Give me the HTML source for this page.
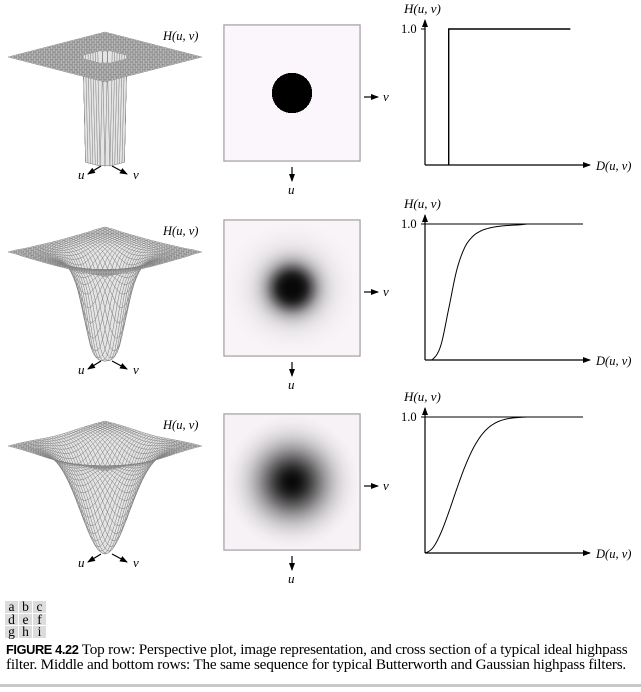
<!DOCTYPE html>
<html><head><meta charset="utf-8">
<style>
body{margin:0;background:#fff;width:641px;height:692px;overflow:hidden;position:relative;font-family:"Liberation Serif",serif}
svg{position:absolute;left:0;top:0}
.cap{position:absolute;left:6px;font-size:15.2px;line-height:15px;color:#000;white-space:nowrap;letter-spacing:-0.2px}
.grid{position:absolute;left:5px;top:601px;display:grid;grid-template-columns:13px 13px 13px;grid-auto-rows:11.5px;gap:1px}
.grid div{background:#dcdcdc;font-size:13.5px;line-height:11.5px;text-align:center}
</style></head><body>
<svg id="fig" width="641" height="692"></svg>
<div class="grid"><div>a</div><div>b</div><div>c</div><div>d</div><div>e</div><div>f</div><div>g</div><div>h</div><div>i</div></div>
<div class="cap" style="top:642px"><b style="font-family:'Liberation Sans',sans-serif;font-size:12.8px;letter-spacing:-0.4px">FIGURE 4.22</b> Top row: Perspective plot, image representation, and cross section of a typical ideal highpass</div>
<div class="cap" style="top:657px">filter. Middle and bottom rows: The same sequence for typical Butterworth and Gaussian highpass filters.</div>
<div style="position:absolute;left:0;top:684px;width:641px;height:3px;background:#c8c8c8"></div>
<script>
// cross-section data (D normalized to graph width, H values)
const dSamples=[0,0.05,0.1,0.15,0.2,0.25,0.3,0.35,0.4,0.45,0.5,0.55,0.6,0.65,1.0];
const butterH=[0,0.007,0.107,0.377,0.657,0.824,0.906,0.947,0.968,0.980,0.987,0.991,0.994,1,1];
const gaussH=[0,0.039,0.146,0.299,0.468,0.627,0.758,0.855,0.920,0.959,0.981,0.992,0.997,1,1];
const idealCut=[0.15];

const NS="http://www.w3.org/2000/svg";
const svg=document.getElementById('fig');
function mk(tag,attrs,parent,name){const e=document.createElementNS(NS,tag);for(const k in attrs)e.setAttribute(k,attrs[k]);


(parent||svg).appendChild(e);return e;}
function txt(x,y,s,name,size){const t=mk('text',{x:x,y:y,'font-size':size||13,'font-style':'italic','font-family':'Liberation Serif, serif'},svg,name);t.textContent=s;return t;}
const defs=mk('defs',{},svg,'defs');
const mrk=mk('marker',{id:'ah',markerWidth:8,markerHeight:6,refX:7,refY:3,orient:'auto',markerUnits:'userSpaceOnUse'},defs,'arrowhead');
mk('path',{d:'M0,0L8,3L0,6z',fill:'#000'},mrk,'arrowhead-shape');
function arrow(x1,y1,x2,y2,name){mk('line',{x1,y1,x2,y2,stroke:'#000','stroke-width':1.2,'marker-end':'url(#ah)'},svg,name);}
function interp(ds,hs,d){if(d>=ds[ds.length-1])return hs[hs.length-1];if(d<=0)return hs[0];
  for(let i=1;i<ds.length;i++){if(d<=ds[i]){const t=(d-ds[i-1])/(ds[i]-ds[i-1]);
    const p0=hs[Math.max(i-2,0)],p1=hs[i-1],p2=hs[i],p3=hs[Math.min(i+1,hs.length-1)];
    const m1=(p2-p0)/2,m2=(p3-p1)/2;const t2=t*t,t3=t2*t;
    let v=(2*t3-3*t2+1)*p1+(t3-2*t2+t)*m1+(-2*t3+3*t2)*p2+(t3-t2)*m2;
    return Math.min(Math.max(v,Math.min(p1,p2)),Math.max(p1,p2));}}return 0;}

const rows=[{type:'ideal',oy:0},{type:'butter',oy:195},{type:'gauss',oy:389}];
function Hof(type,D){if(type==='ideal')return D<idealCut[0]?0:1;return interp(dSamples,type==='butter'?butterH:gaussH,D);}

rows.forEach((r,ri)=>{
  const oy=r.oy, name=r.type;
  const g=mk('g',{},svg,name+'-perspective-plot');
  const N=40, cx=105, cy=57+oy, depth=r.type==='ideal'?104:108;
  const P=(u,v)=>{const D=Math.sqrt(u*u+v*v)/2;const h=Hof(r.type,D);return [cx+48.5*(u-v),cy+12.5*(u+v)+depth*(1-h)];};
  const quads=[];
  for(let i=0;i<N;i++)for(let j=0;j<N;j++){const u0=-1+2*i/N,u1=-1+2*(i+1)/N,v0=-1+2*j/N,v1=-1+2*(j+1)/N;quads.push([u0,u1,v0,v1,(u0+u1+v0+v1)]);}
  quads.sort((a,b)=>a[4]-b[4]);
  quads.forEach(q=>{const a=P(q[0],q[2]),b=P(q[1],q[2]),c=P(q[1],q[3]),d=P(q[0],q[3]);
    const p=document.createElementNS(NS,'path');p.setAttribute('d','M'+a+'L'+b+'L'+c+'L'+d+'Z');p.setAttribute('fill','#e4e4e4');p.setAttribute('stroke','#808080');p.setAttribute('stroke-width','0.45');g.appendChild(p);});
  txt(163,40+oy,'H(u, v)',name+'-surface-label',12.5);
  const ay=(ri===2?554:166+oy);
  arrow(101,ay,88,ay+8,name+'-u-axis-arrow');arrow(112,ay,127,ay+8,name+'-v-axis-arrow');
  txt(78,ay+13,'u',name+'-u-label');txt(133,ay+13,'v',name+'-v-label');
  const bx=224,by=25+oy,bs=136;
  const gr=mk('radialGradient',{id:'rg'+ri,cx:0.5,cy:0.5,r:0.5,gradientUnits:'objectBoundingBox'},defs,name+'-gradient');
  for(let k=0;k<=40;k++){const rr=k/40;const D=rr*bs/2/137;const h=Hof(r.type,D);let c;
    if(r.type==='ideal')c=h<0.5?'#000':'#fbf6fb';else{const gv=Math.round(8+h*243);c='rgb('+gv+','+Math.round(gv*0.985)+','+gv+')';}
    mk('stop',{offset:rr,'stop-color':c},gr,'gradient-stop');
    if(r.type==='ideal'&&k<40){const D2=(k+1)/40*bs/2/137;if(Hof(r.type,D2)!==h)mk('stop',{offset:rr+0.0001,'stop-color':'#fbf6fb'},gr,'gradient-stop');}}
  mk('rect',{x:bx,y:by,width:bs,height:bs,fill:'#fbf6fb',stroke:'#a8a2a8','stroke-width':1.4},svg,name+'-image-frame');
  mk('rect',{x:bx+0.7,y:by+0.7,width:bs-1.4,height:bs-1.4,fill:'url(#rg'+ri+')'},svg,name+'-image');
  arrow(292,by+bs+6,292,by+bs+20,name+'-image-u-arrow');txt(288,by+bs+33,'u',name+'-image-u-label');
  arrow(364,by+bs/2+4,378,by+bs/2+4,name+'-image-v-arrow');txt(383,by+bs/2+8,'v',name+'-image-v-label');
  const ox=425, oyg=165+oy+(ri===2?-1:0), y1=29+oy+(ri===2?-1:0);
  const xs=D=>ox+D*158, ys=h=>oyg-h*(oyg-y1);
  arrow(ox,oyg,ox,y1-9,name+'-graph-y-axis');
  arrow(ox,oyg,590,oyg,name+'-graph-x-axis');
  mk('line',{x1:ox-4,y1:y1,x2:ox,y2:y1,stroke:'#000','stroke-width':1},svg,name+'-tick-1');
  txt(404,y1-16,'H(u, v)',name+'-graph-y-label',13);
  const t1=txt(401,y1+4,'1.0',name+'-tick-label',12.5);t1.setAttribute('font-style','normal');
  txt(596,oyg+5,'D(u, v)',name+'-graph-x-label',12.5);
  let pd;
  if(r.type==='ideal'){const xc=xs(idealCut[0]);pd='M'+xc+','+oyg+'L'+xc+','+ys(1)+'L'+xs(0.92)+','+ys(1);}
  else{const hs=r.type==='butter'?butterH:gaussH;pd='';
    for(let k=0;k<=260;k++){const D=k/400;pd+=(k?'L':'M')+xs(D).toFixed(2)+','+ys(interp(dSamples,hs,D)).toFixed(2);}
    mk('line',{x1:ox,y1:ys(1),x2:xs(1),y2:ys(1),stroke:'#000','stroke-width':1.1},svg,name+'-unity-line');}
  mk('path',{d:pd,fill:'none',stroke:'#000','stroke-width':r.type==='ideal'?1.4:1},svg,name+'-cross-section-curve');
});
</script>
</body></html>
